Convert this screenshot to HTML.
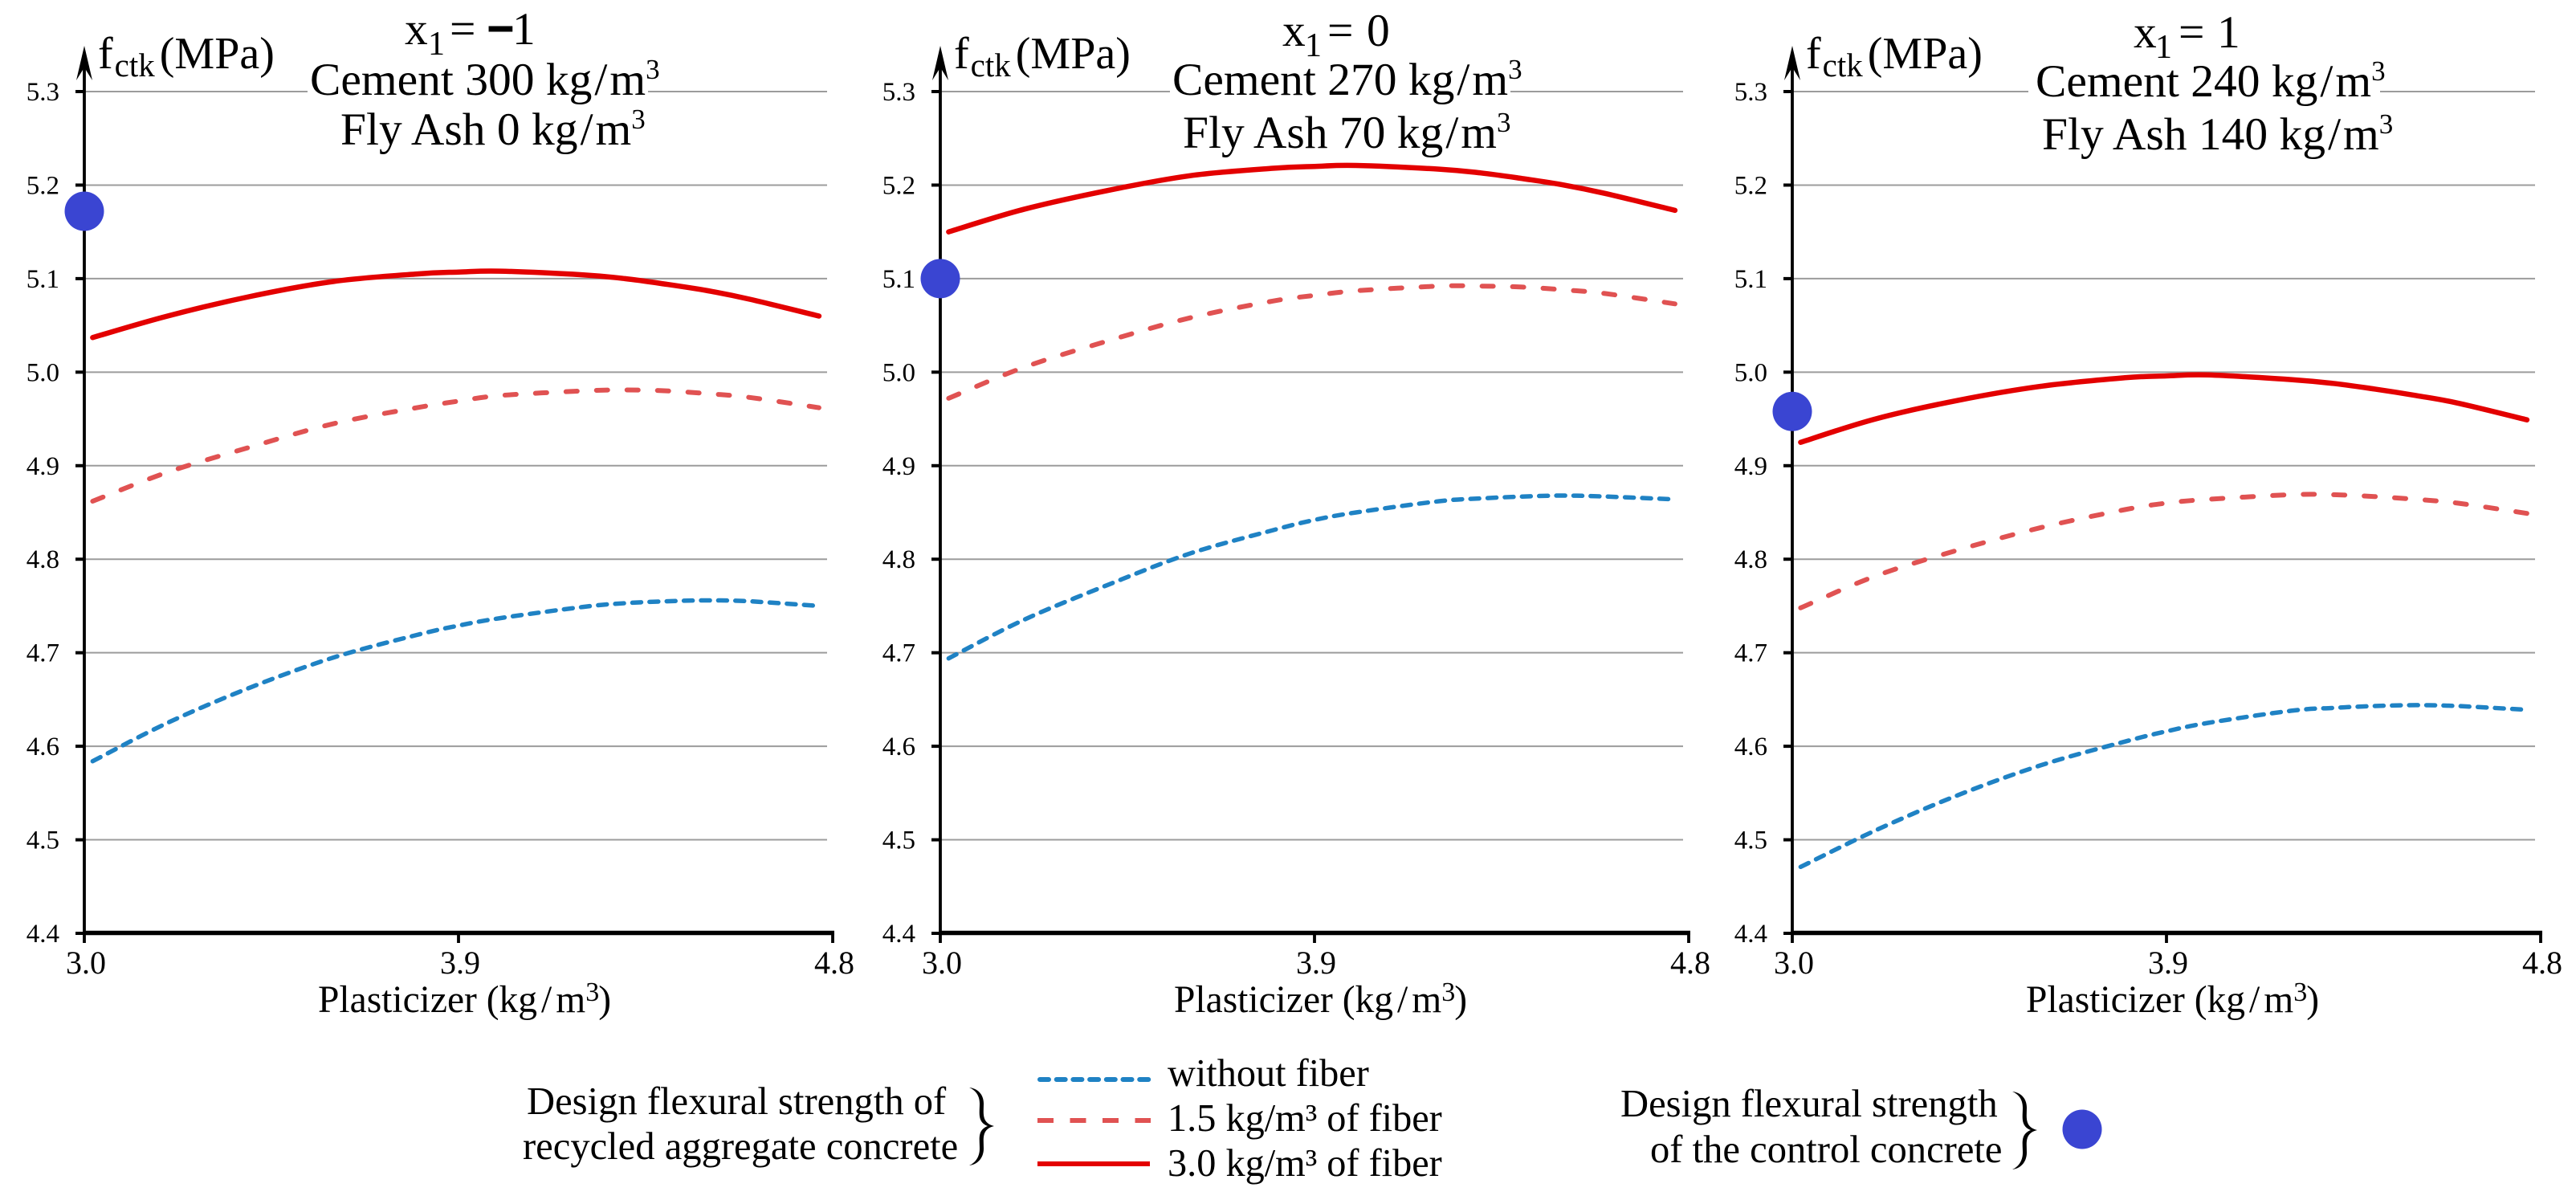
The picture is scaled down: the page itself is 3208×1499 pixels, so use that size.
<!DOCTYPE html>
<html>
<head>
<meta charset="utf-8">
<title>Design flexural strength charts</title>
<style>
html,body{margin:0;padding:0;background:#fff;width:3208px;height:1499px;overflow:hidden}
svg{display:block}
text{font-family:"Liberation Serif","DejaVu Serif",serif;fill:#000}
.ttl{font-size:57.5px}
.ylab{font-size:56px}
.leg{font-size:48.3px}
.leg2{font-size:48.6px}
.xt{font-size:47.5px}
</style>
</head>
<body>
<svg id="chart" width="3208" height="1499" viewBox="0 0 3208 1499" xmlns="http://www.w3.org/2000/svg">
<rect x="0" y="0" width="3208" height="1499" fill="#fff"/>

<g id="plot-0"></g>
<g id="plot-1"></g>
<g id="plot-2"></g>

<!-- Panel 1 headings -->
<rect x="383" y="100" width="424" height="30" fill="#fff"/>
<text class="ttl" x="504" y="55">x<tspan font-size="42" x="533" dy="13">1</tspan><tspan x="560" dy="-13">=</tspan><tspan x="607" font-weight="bold" stroke="#000" stroke-width="3">−</tspan><tspan x="638">1</tspan></text>
<text class="ttl" x="386" y="118">Cement 300 kg<tspan dx="3">/</tspan><tspan dx="3">m</tspan><tspan font-size="35" dy="-20">3</tspan></text>
<text class="ttl" x="424" y="180">Fly Ash 0 kg<tspan dx="3">/</tspan><tspan dx="3">m</tspan><tspan font-size="35" dy="-20">3</tspan></text>
<text class="ylab" x="122" y="85">f<tspan font-size="41" dx="2" dy="10">ctk</tspan><tspan dx="6" dy="-10">(MPa)</tspan></text>
<text class="xt" x="396" y="1260">Plasticizer (kg<tspan dx="5">/</tspan><tspan dx="5">m</tspan><tspan font-size="34" dy="-14">3</tspan><tspan dx="-1" dy="14">)</tspan></text>

<!-- Panel 2 headings -->
<rect x="1457" y="100" width="424" height="30" fill="#fff"/>
<text class="ttl" x="1597" y="57">x<tspan font-size="42" x="1625" dy="13">1</tspan><tspan x="1653" dy="-13">=</tspan><tspan x="1702">0</tspan></text>
<text class="ttl" x="1460" y="118">Cement 270 kg<tspan dx="3">/</tspan><tspan dx="3">m</tspan><tspan font-size="35" dy="-20">3</tspan></text>
<text class="ttl" x="1473" y="184">Fly Ash 70 kg<tspan dx="3">/</tspan><tspan dx="3">m</tspan><tspan font-size="35" dy="-20">3</tspan></text>
<text class="ylab" x="1188" y="85">f<tspan font-size="41" dx="2" dy="10">ctk</tspan><tspan dx="6" dy="-10">(MPa)</tspan></text>
<text class="xt" x="1462" y="1260">Plasticizer (kg<tspan dx="5">/</tspan><tspan dx="5">m</tspan><tspan font-size="34" dy="-14">3</tspan><tspan dx="-1" dy="14">)</tspan></text>

<!-- Panel 3 headings -->
<rect x="2526" y="100" width="438" height="30" fill="#fff"/>
<text class="ttl" x="2657" y="59">x<tspan font-size="42" x="2684" dy="13">1</tspan><tspan x="2713" dy="-13">=</tspan><tspan x="2761">1</tspan></text>
<text class="ttl" x="2535" y="120">Cement 240 kg<tspan dx="3">/</tspan><tspan dx="3">m</tspan><tspan font-size="35" dy="-20">3</tspan></text>
<text class="ttl" x="2543" y="186">Fly Ash 140 kg<tspan dx="3">/</tspan><tspan dx="3">m</tspan><tspan font-size="35" dy="-20">3</tspan></text>
<text class="ylab" x="2249" y="85">f<tspan font-size="41" dx="2" dy="10">ctk</tspan><tspan dx="6" dy="-10">(MPa)</tspan></text>
<text class="xt" x="2523" y="1260">Plasticizer (kg<tspan dx="5">/</tspan><tspan dx="5">m</tspan><tspan font-size="34" dy="-14">3</tspan><tspan dx="-1" dy="14">)</tspan></text>

<!-- Legend -->
<g>
<text class="leg2" x="656" y="1387">Design flexural strength of</text>
<text class="leg2" x="651" y="1443">recycled aggregate concrete</text>
<path d="M1207,1354 C1217,1355 1225,1362 1225,1374 C1225,1386 1222,1398 1238,1402 C1222,1406 1225,1418 1225,1430 C1225,1442 1217,1450 1207,1451 C1214,1448 1220,1441 1220,1430 C1220,1418 1217,1407 1230,1402 C1217,1397 1220,1386 1220,1374 C1220,1363 1214,1357 1207,1354 Z" fill="#000"/>
<line x1="1295" y1="1344" x2="1435" y2="1344" stroke="#1f82c4" stroke-width="6" stroke-linecap="round" stroke-dasharray="11 9.7"/>
<text class="leg" x="1454" y="1352">without fiber</text>
<line x1="1292" y1="1395" x2="1433" y2="1395" stroke="#e05252" stroke-width="6" stroke-dasharray="20 20.5"/>
<text class="leg" x="1454" y="1408">1.5 kg/m³ of fiber</text>
<line x1="1292" y1="1449" x2="1432" y2="1449" stroke="#e30000" stroke-width="6"/>
<text class="leg" x="1454" y="1464">3.0 kg/m³ of fiber</text>
<text class="leg2" x="2018" y="1390">Design flexural strength</text>
<text class="leg2" x="2055" y="1447">of the control concrete</text>
<path transform="translate(1299 5)" d="M1207,1354 C1217,1355 1225,1362 1225,1374 C1225,1386 1222,1398 1238,1402 C1222,1406 1225,1418 1225,1430 C1225,1442 1217,1450 1207,1451 C1214,1448 1220,1441 1220,1430 C1220,1418 1217,1407 1230,1402 C1217,1397 1220,1386 1220,1374 C1220,1363 1214,1357 1207,1354 Z" fill="#000"/>
<circle cx="2593" cy="1406" r="24.5" fill="#3a45d2"/>
</g>

<script>
// Tick labels
var yTickValues = [4.4, 4.5, 4.6, 4.7, 4.8, 4.9, 5.0, 5.1, 5.2, 5.3];
var xTickValues = [3.0, 3.9, 4.8];
// Plasticizer dosage sampled along each curve
var plasticizer = [3.02, 3.2, 3.4, 3.6, 3.8, 3.9, 4.0, 4.2, 4.3, 4.4, 4.5, 4.6, 4.767];
// Panel x1 = -1
var p1WithoutFiber = [4.584, 4.625, 4.663, 4.695, 4.719, 4.729, 4.737, 4.749, 4.753, 4.755, 4.756, 4.755, 4.750];
var p1Fiber15 = [4.862, 4.893, 4.920, 4.945, 4.962, 4.969, 4.975, 4.980, 4.981, 4.980, 4.977, 4.973, 4.962];
var p1Fiber30 = [5.037, 5.060, 5.081, 5.097, 5.105, 5.107, 5.108, 5.104, 5.100, 5.094, 5.087, 5.078, 5.060];
// Panel x1 = 0
var p2WithoutFiber = [4.694, 4.735, 4.772, 4.806, 4.831, 4.842, 4.850, 4.862, 4.865, 4.867, 4.868, 4.867, 4.864];
var p2Fiber15 = [4.972, 5.005, 5.033, 5.058, 5.076, 5.082, 5.087, 5.092, 5.092, 5.091, 5.088, 5.084, 5.073];
var p2Fiber30 = [5.150, 5.174, 5.194, 5.210, 5.218, 5.220, 5.221, 5.217, 5.213, 5.207, 5.200, 5.191, 5.173];
// Panel x1 = 1
var p3WithoutFiber = [4.471, 4.510, 4.548, 4.580, 4.605, 4.616, 4.625, 4.638, 4.641, 4.643, 4.644, 4.643, 4.639];
var p3Fiber15 = [4.748, 4.782, 4.810, 4.834, 4.853, 4.860, 4.864, 4.869, 4.869, 4.867, 4.864, 4.860, 4.849];
var p3Fiber30 = [4.925, 4.950, 4.970, 4.985, 4.994, 4.996, 4.997, 4.992, 4.988, 4.982, 4.975, 4.967, 4.949];
// Control concrete strength per panel
var controlStrength = [5.172, 5.100, 4.958];

var NS = 'http://www.w3.org/2000/svg';
var panelLeft = [105, 1171, 2232];
var allSeries = [
  [p1WithoutFiber, p1Fiber15, p1Fiber30],
  [p2WithoutFiber, p2Fiber15, p2Fiber30],
  [p3WithoutFiber, p3Fiber15, p3Fiber30]
];
var seriesNames = ['without-fiber', 'fiber-1-5', 'fiber-3-0'];
var seriesStyle = [
  {stroke: '#1f82c4', width: 5.5, dash: '11 10.4'},
  {stroke: '#e05252', width: 6, dash: '14 24'},
  {stroke: '#e30000', width: 6.5, dash: ''}
];

function yScale(v) { return 1162 - (v - 4.4) / 0.9 * 1048; }
function xScale(panel, v) { return panelLeft[panel] + (v - 3.0) / 1.8 * 932; }

function make(tag, attrs, parent) {
  var e = document.createElementNS(NS, tag);
  for (var k in attrs) e.setAttribute(k, attrs[k]);
  parent.appendChild(e);
  return e;
}

function smoothPath(pts) {
  var d = 'M' + pts[0][0].toFixed(1) + ',' + pts[0][1].toFixed(1);
  for (var i = 0; i < pts.length - 1; i++) {
    var p0 = pts[Math.max(i - 1, 0)], p1 = pts[i], p2 = pts[i + 1], p3 = pts[Math.min(i + 2, pts.length - 1)];
    var c1x = p1[0] + (p2[0] - p0[0]) / 6, c1y = p1[1] + (p2[1] - p0[1]) / 6;
    var c2x = p2[0] - (p3[0] - p1[0]) / 6, c2y = p2[1] - (p3[1] - p1[1]) / 6;
    d += 'C' + c1x.toFixed(1) + ',' + c1y.toFixed(1) + ' ' + c2x.toFixed(1) + ',' + c2y.toFixed(1) + ' ' + p2[0].toFixed(1) + ',' + p2[1].toFixed(1);
  }
  return d;
}

panelLeft.forEach(function (x0, p) {
  var g = document.getElementById('plot-' + p);

  yTickValues.forEach(function (t) {
    var y = yScale(t);
    if (t > 4.4) {
      var grid = make('line', {x1: x0, y1: y, x2: x0 + 925, y2: y, stroke: '#9c9c9c', 'stroke-width': 2}, g);
      
      
    }
    var tick = make('line', {x1: x0 - 11, y1: y, x2: x0, y2: y, stroke: '#000', 'stroke-width': 4}, g);
    
    
    var lab = make('text', {x: x0 - 31, y: y + 11, 'text-anchor': 'end', 'font-size': 33}, g);
    
    
    lab.textContent = t.toFixed(1);
  });

  var yAxis = make('line', {x1: x0, y1: 70, x2: x0, y2: 1164, stroke: '#000', 'stroke-width': 3.8}, g);
  
  
  var arrow = make('polygon', {points: [x0, 57, x0 + 10, 100, x0, 84, x0 - 10, 100].join(','), fill: '#000'}, g);
  
  
  var xAxis = make('line', {x1: x0 - 1, y1: 1161.5, x2: x0 + 934, y2: 1161.5, stroke: '#000', 'stroke-width': 5.5}, g);
  
  

  xTickValues.forEach(function (t) {
    var x = xScale(p, t);
    var tick = make('line', {x1: x, y1: 1162, x2: x, y2: 1174, stroke: '#000', 'stroke-width': 3.8}, g);
    
    
    var lab = make('text', {x: x + 2, y: 1212, 'text-anchor': 'middle', 'font-size': 40}, g);
    
    
    lab.textContent = t.toFixed(1);
  });

  allSeries[p].forEach(function (vals, s) {
    var pts = vals.map(function (v, i) { return [xScale(p, plasticizer[i]), yScale(v)]; });
    var st = seriesStyle[s];
    var line = make('path', {d: smoothPath(pts), fill: 'none', stroke: st.stroke, 'stroke-width': st.width, 'stroke-linecap': 'round', 'stroke-linejoin': 'round'}, g);
    if (st.dash) line.setAttribute('stroke-dasharray', st.dash);
    
    
  });

  var dot = make('circle', {cx: x0, cy: yScale(controlStrength[p]), r: 24.5, fill: '#3a45d2'}, g);
  
  
});
</script>
</svg>
</body>
</html>
